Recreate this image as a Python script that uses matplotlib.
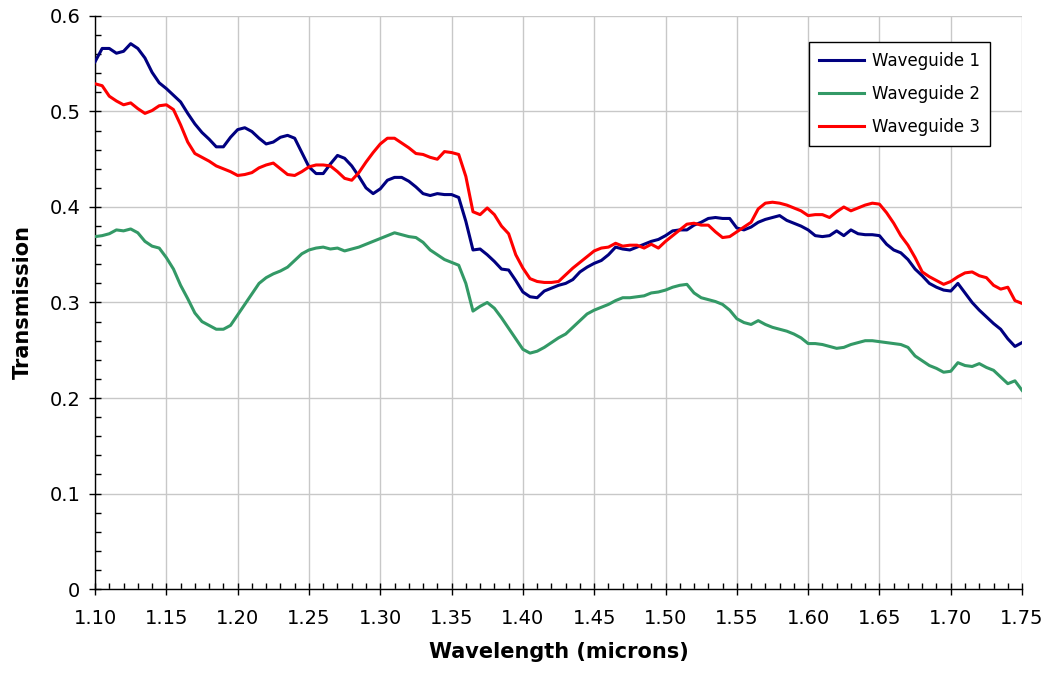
import numpy as np
import matplotlib
matplotlib.use('Agg')
import matplotlib.pyplot as plt
from matplotlib.ticker import MultipleLocator, FuncFormatter

# wavelength grid (microns), read every 0.005
wavelength = np.round(np.arange(1.100, 1.7501, 0.005), 3)

# Waveguide 1 (navy)
wg1 = [0.552, 0.566, 0.566, 0.561, 0.563, 0.571, 0.566, 0.556, 0.541, 0.530,
       0.524, 0.517, 0.510, 0.498, 0.487, 0.478, 0.471, 0.463, 0.463, 0.473,
       0.481, 0.483, 0.479, 0.472, 0.466, 0.468, 0.473, 0.475, 0.472, 0.457,
       0.442, 0.435, 0.435, 0.445, 0.454, 0.451, 0.443, 0.432, 0.420, 0.414,
       0.419, 0.428, 0.431, 0.431, 0.427, 0.421, 0.414, 0.412, 0.414, 0.413,
       0.413, 0.410, 0.385, 0.355, 0.356, 0.350, 0.343, 0.335, 0.334, 0.323,
       0.311, 0.306, 0.305, 0.312, 0.315, 0.318, 0.320, 0.324, 0.332, 0.337,
       0.341, 0.344, 0.350, 0.358, 0.356, 0.355, 0.358, 0.361, 0.364, 0.366,
       0.370, 0.375, 0.376, 0.376, 0.381, 0.384, 0.388, 0.389, 0.388, 0.388,
       0.378, 0.376, 0.379, 0.384, 0.387, 0.389, 0.391, 0.386, 0.383, 0.380,
       0.376, 0.370, 0.369, 0.370, 0.375, 0.370, 0.376, 0.372, 0.371, 0.371,
       0.370, 0.361, 0.355, 0.352, 0.345, 0.335, 0.328, 0.320, 0.316, 0.313,
       0.312, 0.320, 0.310, 0.300, 0.292, 0.285, 0.278, 0.272, 0.262, 0.254,
       0.258]

# Waveguide 2 (green)
wg2 = [0.369, 0.370, 0.372, 0.376, 0.375, 0.377, 0.373, 0.364, 0.359, 0.357,
       0.347, 0.335, 0.318, 0.304, 0.289, 0.280, 0.276, 0.272, 0.272, 0.276,
       0.287, 0.298, 0.309, 0.320, 0.326, 0.330, 0.333, 0.337, 0.344, 0.351,
       0.355, 0.357, 0.358, 0.356, 0.357, 0.354, 0.356, 0.358, 0.361, 0.364,
       0.367, 0.370, 0.373, 0.371, 0.369, 0.368, 0.363, 0.355, 0.350, 0.345,
       0.342, 0.339, 0.320, 0.291, 0.296, 0.300, 0.294, 0.284, 0.273, 0.262,
       0.251, 0.247, 0.249, 0.253, 0.258, 0.263, 0.267, 0.274, 0.281, 0.288,
       0.292, 0.295, 0.298, 0.302, 0.305, 0.305, 0.306, 0.307, 0.310, 0.311,
       0.313, 0.316, 0.318, 0.319, 0.310, 0.305, 0.303, 0.301, 0.298, 0.292,
       0.283, 0.279, 0.277, 0.281, 0.277, 0.274, 0.272, 0.270, 0.267, 0.263,
       0.257, 0.257, 0.256, 0.254, 0.252, 0.253, 0.256, 0.258, 0.260, 0.260,
       0.259, 0.258, 0.257, 0.256, 0.253, 0.244, 0.239, 0.234, 0.231, 0.227,
       0.228, 0.237, 0.234, 0.233, 0.236, 0.232, 0.229, 0.222, 0.215, 0.218,
       0.208]

# Waveguide 3 (red)
wg3 = [0.529, 0.527, 0.516, 0.511, 0.507, 0.509, 0.503, 0.498, 0.501, 0.506,
       0.507, 0.502, 0.486, 0.468, 0.456, 0.452, 0.448, 0.443, 0.440, 0.437,
       0.433, 0.434, 0.436, 0.441, 0.444, 0.446, 0.440, 0.434, 0.433, 0.437,
       0.442, 0.444, 0.444, 0.443, 0.437, 0.430, 0.428, 0.436, 0.447, 0.457,
       0.466, 0.472, 0.472, 0.467, 0.462, 0.456, 0.455, 0.452, 0.450, 0.458,
       0.457, 0.455, 0.432, 0.395, 0.392, 0.399, 0.392, 0.380, 0.372, 0.350,
       0.336, 0.325, 0.322, 0.321, 0.321, 0.322, 0.329, 0.336, 0.342, 0.348,
       0.354, 0.357, 0.358, 0.362, 0.359, 0.360, 0.360, 0.357, 0.361, 0.357,
       0.364, 0.370, 0.376, 0.382, 0.383, 0.381, 0.381, 0.374, 0.368, 0.369,
       0.374, 0.379, 0.384, 0.398, 0.404, 0.405, 0.404, 0.402, 0.399, 0.396,
       0.391, 0.392, 0.392, 0.389, 0.395, 0.400, 0.396, 0.399, 0.402, 0.404,
       0.403, 0.394, 0.383, 0.370, 0.360, 0.347, 0.332, 0.327, 0.323, 0.319,
       0.322, 0.327, 0.331, 0.332, 0.328, 0.326, 0.318, 0.314, 0.316, 0.302,
       0.299]

series = [('Waveguide 1', wg1, '#000080'),
          ('Waveguide 2', wg2, '#339966'),
          ('Waveguide 3', wg3, '#ff0000')]

fig = plt.figure(figsize=(10.5, 6.8), dpi=100)
ax = fig.add_axes([0.0905, 0.1338, 0.8829, 0.8427])

for name, vals, col in series:
    ax.plot(wavelength, vals, color=col, linewidth=2.2, label=name, zorder=3)

ax.set_xlim(1.10, 1.75)
ax.set_ylim(0, 0.6)

ax.xaxis.set_major_locator(MultipleLocator(0.05))
ax.xaxis.set_minor_locator(MultipleLocator(0.01))
ax.yaxis.set_major_locator(MultipleLocator(0.1))
ax.yaxis.set_minor_locator(MultipleLocator(0.02))
ax.xaxis.set_major_formatter(FuncFormatter(lambda v, p: '%.2f' % v))
ax.yaxis.set_major_formatter(FuncFormatter(lambda v, p: '0' if abs(v) < 1e-9 else '%.1f' % v))

ax.grid(True, which='major', color='#c8c8c8', linewidth=1.0, zorder=0)
ax.set_axisbelow(True)

for s in ['top', 'right']:
    ax.spines[s].set_visible(False)
for s in ['left', 'bottom']:
    ax.spines[s].set_linewidth(1.0)
    ax.spines[s].set_color('black')

ax.tick_params(axis='both', which='major', direction='inout', length=9,
               width=1, labelsize=14)
ax.tick_params(axis='both', which='minor', direction='in', length=4, width=1)
ax.tick_params(axis='x', which='major', pad=10)
ax.tick_params(axis='y', which='major', pad=6)

ax.set_xlabel('Wavelength (microns)', fontsize=15, fontweight='bold', labelpad=10)
ax.set_ylabel('Transmission', fontsize=15, fontweight='bold', labelpad=12)

leg = ax.legend(loc='upper right', bbox_to_anchor=(0.9655, 0.9546),
                borderaxespad=0, fontsize=12, fancybox=False, framealpha=1,
                edgecolor='black', handlelength=2.7, labelspacing=0.9,
                borderpad=0.6, handletextpad=0.5)
leg.get_frame().set_linewidth(1.0)

fig.savefig('out.png', dpi=100)
